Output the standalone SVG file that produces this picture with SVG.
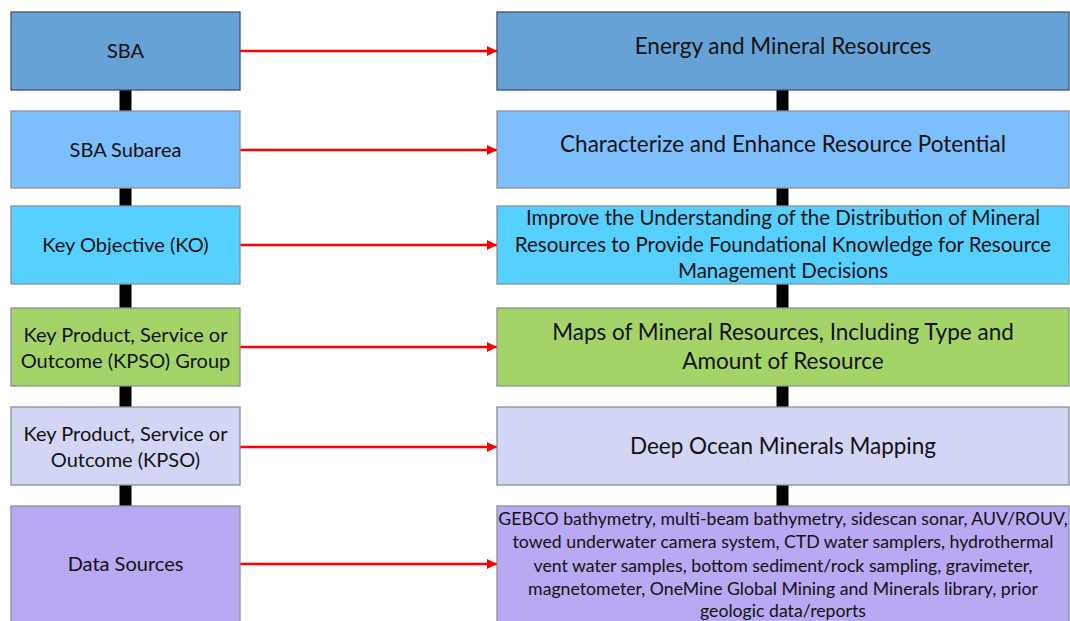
<svg xmlns="http://www.w3.org/2000/svg" width="1070" height="621" viewBox="0 0 1070 621">
<defs>
<style>
.box{stroke:#8a8f99;stroke-width:1.3}
.t{font-family:Lato,"Liberation Sans",sans-serif;fill:#111;text-anchor:middle}
.l{font-size:20px}
.r{font-size:22.5px}
.rm{font-size:20.5px}
.rs{font-size:17.7px}
.arr{stroke:#ff0000;stroke-width:2.5;fill:none;marker-end:url(#ah)}
.bar{fill:#000}
</style>
<marker id="ah" viewBox="0 0 10 10" refX="10" refY="5" markerWidth="4" markerHeight="4" markerUnits="strokeWidth" orient="auto">
<path d="M0,0 L10,5 L0,10 z" fill="#ff0000"/>
</marker>
</defs>
<rect width="1070" height="621" fill="#ffffff"/>
<g id="connectors">
<rect class="bar" x="119.5" y="90" width="12" height="420"/>
<rect class="bar" x="776.5" y="90" width="12" height="420"/>
<line class="arr" x1="240" y1="51" x2="497" y2="51"/>
<line class="arr" x1="240" y1="150" x2="497" y2="150"/>
<line class="arr" x1="240" y1="245" x2="497" y2="245"/>
<line class="arr" x1="240" y1="347" x2="497" y2="347"/>
<line class="arr" x1="240" y1="447" x2="497" y2="447"/>
<line class="arr" x1="240" y1="564" x2="497" y2="564"/>
</g>
<g id="n-sba">
<rect class="box" x="11" y="12" width="229" height="78" fill="#66a2d6" style="stroke:#42556e"/>
<text class="t l" x="125.5" y="58">SBA</text>
</g>
<g id="n-subarea">
<rect class="box" x="11" y="111" width="229" height="77" fill="#7dbffd"/>
<text class="t l" x="125.5" y="157">SBA Subarea</text>
</g>
<g id="n-ko">
<rect class="box" x="11" y="206" width="229" height="78" fill="#55d0ff"/>
<text class="t l" x="125.5" y="252">Key Objective (KO)</text>
</g>
<g id="n-kpsog">
<rect class="box" x="11" y="308" width="229" height="78" fill="#a4d468"/>
<text class="t l" x="125.5" y="342">Key Product, Service or</text>
<text class="t l" x="125.5" y="368">Outcome (KPSO) Group</text>
</g>
<g id="n-kpso">
<rect class="box" x="11" y="407" width="229" height="78" fill="#d3d5f5"/>
<text class="t l" x="125.5" y="441">Key Product, Service or</text>
<text class="t l" x="125.5" y="467">Outcome (KPSO)</text>
</g>
<g id="n-data">
<rect class="box" x="11" y="506" width="229" height="125" fill="#b9a9f3"/>
<text class="t l" x="125.5" y="571">Data Sources</text>
</g>
<g id="r-sba">
<rect class="box" x="497" y="12" width="572" height="78" fill="#66a2d6" style="stroke:#42556e"/>
<text class="t r" x="783" y="54">Energy and Mineral Resources</text>
</g>
<g id="r-subarea">
<rect class="box" x="497" y="111" width="572" height="77" fill="#7dbffd"/>
<text class="t r" x="783" y="152">Characterize and Enhance Resource Potential</text>
</g>
<g id="r-ko">
<rect class="box" x="497" y="206" width="572" height="78" fill="#55d0ff"/>
<text class="t rm" x="783" y="225">Improve the Understanding of the Distribution of Mineral</text>
<text class="t rm" x="783" y="252">Resources to Provide Foundational Knowledge for Resource</text>
<text class="t rm" x="783" y="278">Management Decisions</text>
</g>
<g id="r-kpsog">
<rect class="box" x="497" y="308" width="572" height="78" fill="#a4d468"/>
<text class="t r" x="783" y="340">Maps of Mineral Resources, Including Type and</text>
<text class="t r" x="783" y="369">Amount of Resource</text>
</g>
<g id="r-kpso">
<rect class="box" x="497" y="407" width="572" height="78" fill="#d3d5f5"/>
<text class="t r" x="783" y="454">Deep Ocean Minerals Mapping</text>
</g>
<g id="r-data">
<rect class="box" x="497" y="506" width="572" height="125" fill="#b9a9f3"/>
<text class="t rs" x="783" y="525">GEBCO bathymetry, multi-beam bathymetry, sidescan sonar, AUV/ROUV,</text>
<text class="t rs" x="783" y="548">towed underwater camera system, CTD water samplers, hydrothermal</text>
<text class="t rs" x="783" y="572">vent water samples, bottom sediment/rock sampling, gravimeter,</text>
<text class="t rs" x="783" y="595">magnetometer, OneMine Global Mining and Minerals library, prior</text>
<text class="t rs" x="783" y="617">geologic data/reports</text>
</g>
</svg>
